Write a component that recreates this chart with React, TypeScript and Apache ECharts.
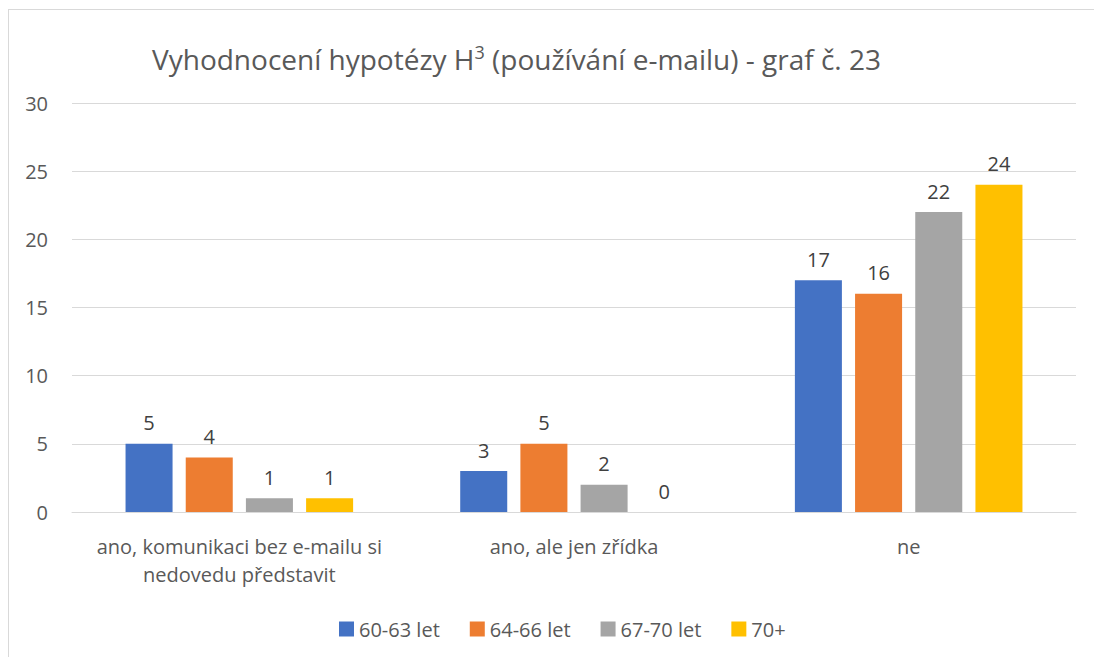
import React, { useEffect, useRef } from "react";
import * as echarts from "echarts";

const categories = [
  "ano, komunikaci bez e-mailu si\nnedovedu představit",
  "ano, ale jen zřídka",
  "ne",
];
const seriesNames = ["60-63 let", "64-66 let", "67-70 let", "70+"];
const values6063 = [5, 3, 17];
const values6466 = [4, 5, 16];
const values6770 = [1, 2, 22];
const values70 = [1, 0, 24];
const colors = ["#4472C4", "#ED7D31", "#A5A5A5", "#FFC000"];

const FONT = "'Open Sans', 'Noto Sans', sans-serif";

export default function App() {
  const ref = useRef<HTMLDivElement>(null);
  useEffect(() => {
    document.body.style.overflow = "hidden";
    const chart = echarts.init(ref.current!, null, { renderer: "svg" });
    const data = [values6063, values6466, values6770, values70];
    chart.setOption({
      animation: false,
      textStyle: { fontFamily: FONT },
      title: {
        text: "{a|Vyhodnocení hypotézy H}{s|3}{a| (používání e-mailu) - graf č. 23}",
        left: 138,
        top: 28,
        textStyle: {
          fontWeight: "normal",
          rich: {
            a: { fontSize: 28, fontWeight: "normal", color: "#595959", fontFamily: FONT, verticalAlign: "bottom" },
            s: { fontSize: 18, fontWeight: "normal", color: "#595959", fontFamily: FONT, verticalAlign: "top", padding: [0, 0, 12, 0] },
          },
        },
      },
      legend: {
        bottom: 20,
        left: 325,
        itemWidth: 15,
        itemHeight: 15,
        itemGap: 30,
        icon: "rect",
        textStyle: { fontSize: 20, color: "#595959", fontFamily: FONT },
        data: seriesNames,
      },
      grid: { left: 63, right: 17, top: 93, bottom: 152 },
      xAxis: {
        type: "category",
        data: categories,
        axisLine: { lineStyle: { color: "#d9d9d9" } },
        axisTick: { show: false },
        axisLabel: { interval: 0, fontSize: 20, color: "#595959", lineHeight: 28, margin: 20, fontFamily: FONT },
      },
      yAxis: {
        type: "value",
        min: 0,
        max: 30,
        interval: 5,
        axisLine: { show: false },
        axisTick: { show: false },
        splitLine: { lineStyle: { color: "#d9d9d9" } },
        axisLabel: { fontSize: 20, color: "#595959", margin: 24, fontFamily: FONT },
      },
      series: seriesNames.map((name, i) => ({
        name,
        type: "bar",
        data: data[i],
        barGap: "28%",
        barCategoryGap: "32%",
        itemStyle: { color: colors[i] },
        label: {
          show: true,
          position: "top",
          distance: 11,
          fontSize: 20,
          color: "#404040",
          fontFamily: FONT,
        },
      })),
    });
    return () => chart.dispose();
  }, []);
  return (
    <div
      style={{
        position: "absolute",
        left: 8,
        top: 9,
        width: 1092,
        height: 656,
        border: "1px solid #d9d9d9",
        boxSizing: "border-box",
        background: "#fff",
      }}
    >
      <div ref={ref} style={{ width: 1084, height: 654 }} />
    </div>
  );
}
